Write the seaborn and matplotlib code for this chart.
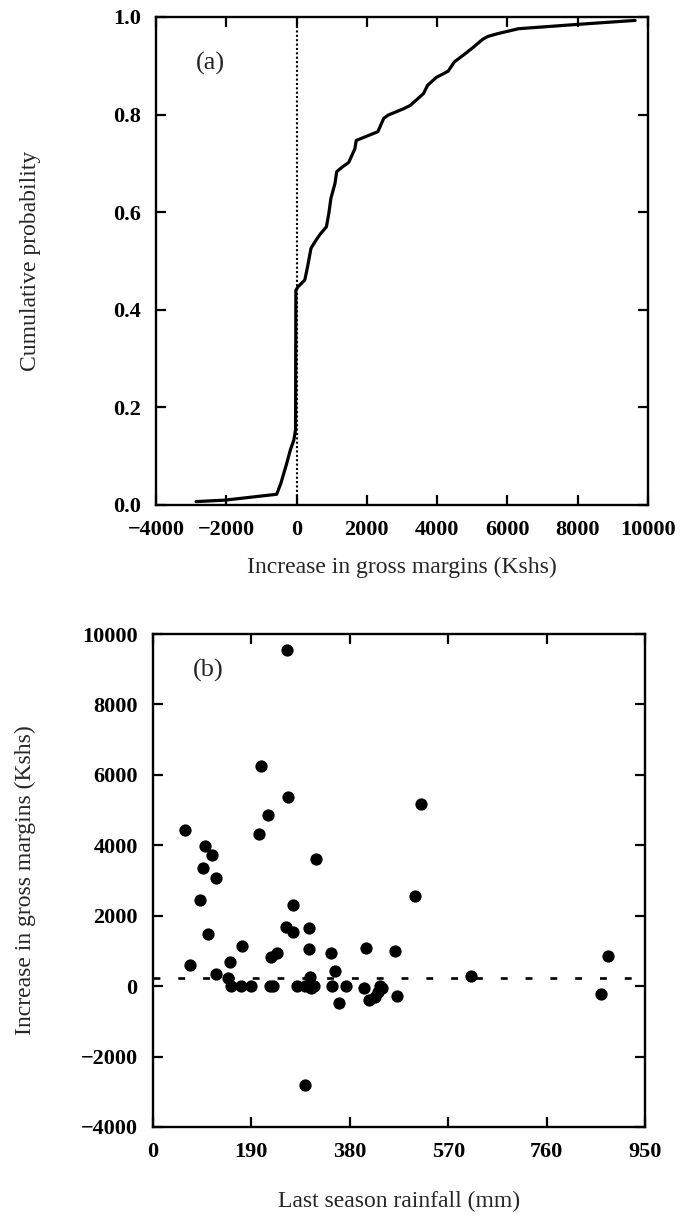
import matplotlib
matplotlib.use("Agg")
import matplotlib.pyplot as plt
import seaborn as sns
import pandas as pd

# Panel (a): cumulative distribution of the gain in gross margins
cdf_gain = [-2860, -2030, -566, -449, -293, -176, -78, -29, -20, 39, 234, 312,
            410, 556, 683, 849, 917, 976, 1093, 1142, 1308, 1484, 1659, 1698,
            2313, 2479, 2606, 3045, 3240, 3611, 3728, 3972, 4314, 4490, 4802,
            5046, 5290, 5436, 5729, 6315, 8023, 9633]
cdf_prob = [0.007, 0.010, 0.022, 0.044, 0.082, 0.113, 0.133, 0.154, 0.440,
            0.447, 0.461, 0.488, 0.526, 0.543, 0.556, 0.570, 0.597, 0.628,
            0.659, 0.683, 0.693, 0.702, 0.730, 0.747, 0.765, 0.792, 0.799,
            0.812, 0.819, 0.843, 0.860, 0.876, 0.889, 0.908, 0.925, 0.939,
            0.954, 0.960, 0.966, 0.976, 0.985, 0.993]

# Panel (b): gain in gross margins against last season rainfall
rainfall = [61, 72, 100, 97, 113, 122, 90, 107, 121, 148, 145, 150, 169, 172,
            189, 205, 209, 223, 227, 239, 226, 232, 259, 261, 256, 271, 271,
            278, 294, 314, 302, 302, 303, 306, 293, 310, 343, 352, 345, 373,
            359, 411, 407, 418, 428, 434, 438, 443, 467, 472, 505, 517, 614,
            865, 879]
gain = [4440, 600, 3980, 3350, 3730, 3060, 2450, 1490, 350, 680, 240, 0, 0,
        1130, 0, 4320, 6250, 4870, 830, 945, 0, 0, 9550, 5380, 1670, 1540,
        2300, 0, -2800, 3620, 1640, 1060, 270, -50, 0, 0, 930, 430, 0, 0,
        -490, 1080, -40, -400, -310, -180, 0, -50, 990, -290, 2550, 5180, 290,
        -210, 860]
mean_gain = 240

a_xticks = [-4000, -2000, 0, 2000, 4000, 6000, 8000, 10000]
a_yticks = [0.0, 0.2, 0.4, 0.6, 0.8, 1.0]
b_xticks = [0, 190, 380, 570, 760, 950]
b_yticks = [-4000, -2000, 0, 2000, 4000, 6000, 8000, 10000]

sns.set_theme(style="ticks")
plt.rcParams["font.family"] = ["Liberation Serif", "DejaVu Serif"]
plt.rcParams["axes.unicode_minus"] = True

fig = plt.figure(figsize=(6.82, 12.17), dpi=100)
W, H = 682, 1217
ax_a = fig.add_axes([156 / W, (H - 505) / H, 492 / W, 488 / H])
ax_b = fig.add_axes([153 / W, (H - 1127) / H, 492 / W, 493 / H])

TICK_SIZE = 16
LABEL_SIZE = 17


def signed(v):
    return f"{v:d}".replace("-", "\u2212")


def style_axes(ax):
    for s in ax.spines.values():
        s.set_linewidth(1.7)
        s.set_color("black")
    ax.tick_params(direction="in", length=7, width=1.6, top=True, right=True,
                   labelsize=TICK_SIZE, pad=11, colors="black")
    for lab in ax.get_xticklabels() + ax.get_yticklabels():
        lab.set_fontweight("bold")
    ax.grid(False)
    ax.set_facecolor("white")


def place_labels(ax, xlabel_y, ylabel_x):
    ax.xaxis.set_label_coords(0.5, xlabel_y)
    ax.xaxis.label.set_verticalalignment("center")
    ax.yaxis.set_label_coords(ylabel_x, 0.5)
    ax.yaxis.label.set_verticalalignment("center")


# ---- (a) cumulative probability curve
df_a = pd.DataFrame({"gain": cdf_gain, "prob": cdf_prob})
sns.lineplot(data=df_a, x="gain", y="prob", ax=ax_a, color="black",
             linewidth=2.3, sort=False, estimator=None)
ax_a.axvline(0, color="black", linewidth=1.5, linestyle=(0, (1, 1.1)))
ax_a.set_xlim(-4000, 10000)
ax_a.set_ylim(0, 1.0)
ax_a.set_xticks(a_xticks)
ax_a.set_yticks(a_yticks)
ax_a.set_xticklabels([signed(v) for v in a_xticks])
ax_a.set_yticklabels([f"{v:.1f}" for v in a_yticks])
ax_a.set_xlabel("Increase in gross margins (Kshs)", fontsize=LABEL_SIZE)
ax_a.set_ylabel("Cumulative probability", fontsize=LABEL_SIZE)
place_labels(ax_a, -(567 - 505) / 488, (31 - 156) / 492)
ax_a.text(-2450, 0.905, "(a)", ha="center", va="center", fontsize=19)
style_axes(ax_a)

# ---- (b) scatter of gains against rainfall
df_b = pd.DataFrame({"rainfall": rainfall, "gain": gain})
sns.scatterplot(data=df_b, x="rainfall", y="gain", ax=ax_b, color="black",
                s=78, edgecolor="black", linewidth=0, legend=False, zorder=3)
ax_b.axhline(mean_gain, color="black", linewidth=1.9,
             linestyle=(0, (2.6, 6.8)))
ax_b.set_xlim(0, 950)
ax_b.set_ylim(-4000, 10000)
ax_b.set_xticks(b_xticks)
ax_b.set_yticks(b_yticks)
ax_b.set_xticklabels([str(v) for v in b_xticks])
ax_b.set_yticklabels([signed(v) for v in b_yticks])
ax_b.set_xlabel("Last season rainfall (mm)", fontsize=LABEL_SIZE)
ax_b.set_ylabel("Increase in gross margins (Kshs)", fontsize=LABEL_SIZE)
place_labels(ax_b, -(1201 - 1127) / 493, (25 - 153) / 492)
ax_b.text(106, 8970, "(b)", ha="center", va="center", fontsize=19)
style_axes(ax_b)

fig.savefig("out.png", dpi=100, facecolor="white")
